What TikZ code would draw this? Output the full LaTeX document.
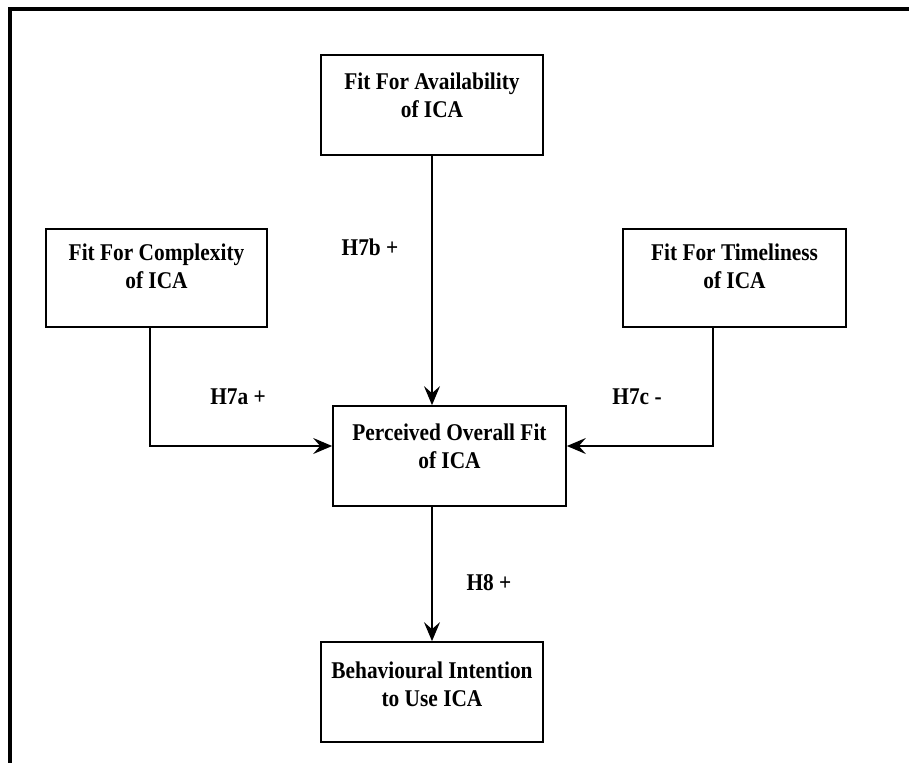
\documentclass[tikz,border=0pt]{standalone}
\usepackage{fontspec}
\setmainfont{Liberation Serif}[FakeStretch=0.89]
\usetikzlibrary{arrows.meta}
\begin{document}
\begin{tikzpicture}[x=1pt,y=-1pt,
  box/.style={draw=black,line width=1.7pt,inner sep=0pt},
  boxtext/.style={align=center,inner sep=0pt,font=\fontsize{24}{28}\selectfont\bfseries},
  hyp/.style={inner sep=0pt,font=\fontsize{24}{28}\selectfont\bfseries},
  link/.style={line width=1.7pt,-{Stealth[length=19pt,width=16pt,inset=7pt]}}]
  \useasboundingbox (0,0) rectangle (909,763);
  % open frame: top and left rules only
  \draw[line width=4pt] (909,9) -- (10,9) -- (10,763);

  % construct boxes
  \node[box,minimum width=222pt,minimum height=100pt] (avail) at (432,105) {};
  \node[box,minimum width=221pt,minimum height=98pt] (compl) at (156.5,278) {};
  \node[box,minimum width=223pt,minimum height=98pt] (timel) at (734.5,278) {};
  \node[box,minimum width=233pt,minimum height=100pt] (perc) at (449.5,456) {};
  \node[box,minimum width=222pt,minimum height=100pt] (behav) at (432,692) {};

  % box captions
  \node[boxtext] (availtxt) at (432,95) {Fit For Availability\\of ICA};
  \node[boxtext] (compltxt) at (156.5,266) {Fit For Complexity\\of ICA};
  \node[boxtext] (timeltxt) at (734.5,266) {Fit For Timeliness\\of ICA};
  \node[boxtext] (perctxt) at (449.5,446) {Perceived Overall Fit\\of ICA};
  \node[boxtext] (behavtxt) at (432,684) {Behavioural Intention\\to Use ICA};

  % hypothesis paths
  \draw[link] (avail.south) -- (avail.south |- perc.north);
  \draw[link] ([xshift=-6.5pt]compl.south) |- ([yshift=10pt]perc.west);
  \draw[link] ([xshift=-21.5pt]timel.south) |- ([yshift=10pt]perc.east);
  \draw[link] (behav.north |- perc.south) -- (behav.north);

  % path labels
  \node[hyp] (h7b) at (370,247) {H7b +};
  \node[hyp] (h7a) at (238,397) {H7a +};
  \node[hyp] (h7c) at (637,397) {H7c -};
  \node[hyp] (h8) at (489,583) {H8 +};
\end{tikzpicture}
\end{document}
